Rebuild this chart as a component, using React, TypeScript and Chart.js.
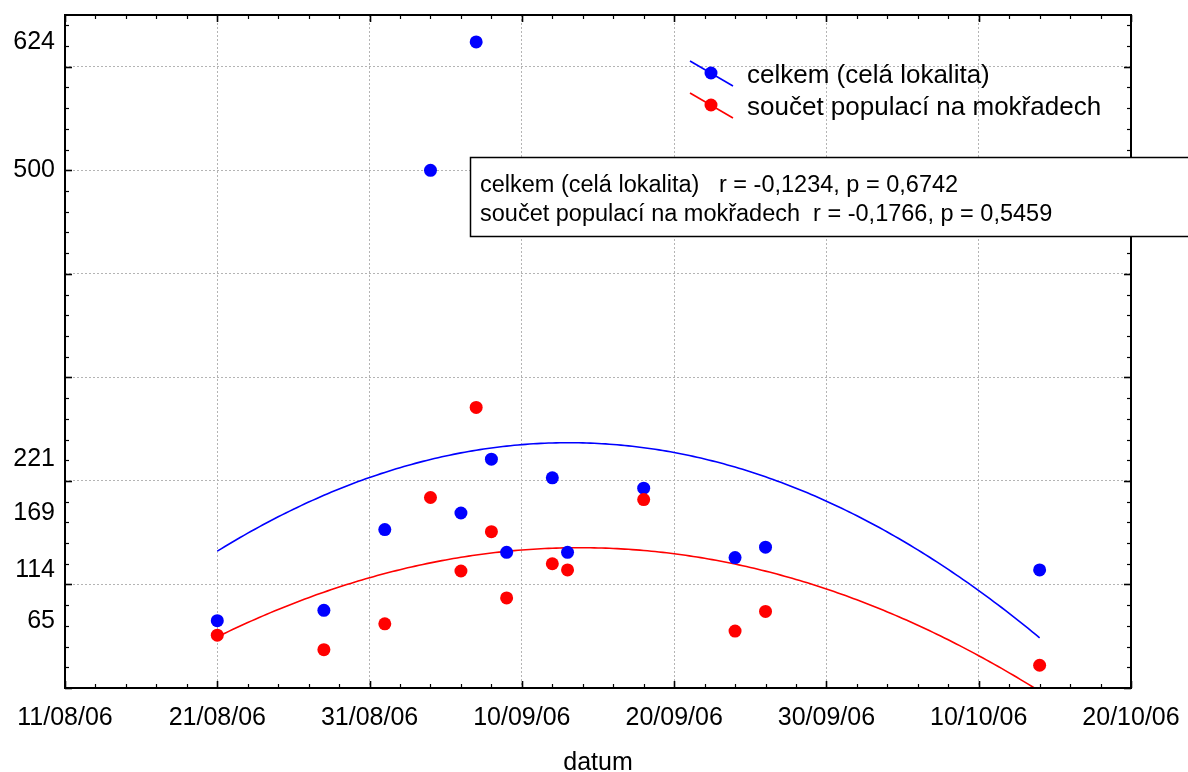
import React, { useEffect, useRef } from 'react';
import { Chart, registerables } from 'chart.js';

Chart.register(...registerables);

// ---------------- data ----------------
const ORIGIN_DATE = '2006-08-11';
const X_SPAN_DAYS = 70;
const sampleDates = [
  '2006-08-21', '2006-08-28', '2006-09-01', '2006-09-04', '2006-09-06', '2006-09-07', '2006-09-08',
  '2006-09-09', '2006-09-12', '2006-09-13', '2006-09-18', '2006-09-24', '2006-09-26', '2006-10-14',
];
const celkem = [65, 75, 153, 500, 169, 624, 221, 131, 203, 131, 193, 126, 136, 114];
const soucet = [51, 37, 62, 184, 113, 271, 151, 87, 120, 114, 182, 55, 74, 22];
const seriesNames = ['celkem (celá lokalita)', 'součet populací na mokřadech'];
const rValues = ['-0,1234', '-0,1766'];
const pValues = ['0,6742', '0,5459'];
const yTickLabels = [65, 114, 169, 221, 500, 624];
const yGridValues = [100, 200, 300, 400, 500, 600];
const xTickDays = [0, 10, 20, 30, 40, 50, 60, 70];
const xTitle = 'datum';
const Y_MAX = 650;

const COLORS = ['#0000ff', '#ff0000'];
const FONT = '"Liberation Sans", Arial, Helvetica, sans-serif';
const GRID = '#b4b4b4';

const DAY = 86400000;
const toUTC = (s: string) => {
  const [y, m, d] = s.split('-').map(Number);
  return Date.UTC(y, m - 1, d);
};
const originMs = toUTC(ORIGIN_DATE);
const dayOf = (s: string) => Math.round((toUTC(s) - originMs) / DAY);
const fmtDay = (day: number) => {
  const d = new Date(originMs + day * DAY);
  const p = (n: number) => String(n).padStart(2, '0');
  return `${p(d.getUTCDate())}/${p(d.getUTCMonth() + 1)}/${p(d.getUTCFullYear() % 100)}`;
};

// least-squares quadratic regression of the data
function quadFit(xs: number[], ys: number[]) {
  const n = xs.length;
  const mx = xs.reduce((a, b) => a + b, 0) / n;
  const S = [0, 0, 0, 0, 0];
  const T = [0, 0, 0];
  for (let i = 0; i < n; i++) {
    const u = xs[i] - mx;
    let pw = 1;
    for (let k = 0; k <= 4; k++) {
      S[k] += pw;
      if (k <= 2) T[k] += ys[i] * pw;
      pw *= u;
    }
  }
  const M = [
    [S[0], S[1], S[2]],
    [S[1], S[2], S[3]],
    [S[2], S[3], S[4]],
  ];
  const det3 = (m: number[][]) =>
    m[0][0] * (m[1][1] * m[2][2] - m[1][2] * m[2][1]) -
    m[0][1] * (m[1][0] * m[2][2] - m[1][2] * m[2][0]) +
    m[0][2] * (m[1][0] * m[2][1] - m[1][1] * m[2][0]);
  const D = det3(M);
  const coef = [0, 1, 2].map((c) => {
    const Mc = M.map((row, r) => row.map((v, j) => (j === c ? T[r] : v)));
    return det3(Mc) / D;
  });
  return (x: number) => {
    const u = x - mx;
    return coef[0] + coef[1] * u + coef[2] * u * u;
  };
}

const days = sampleDates.map(dayOf);
const seriesValues = [celkem, soucet];

function fitCurve(values: number[]) {
  const f = quadFit(days, values);
  const lo = Math.min(...days);
  const hi = Math.max(...days);
  const pts: { x: number; y: number }[] = [];
  for (let d = lo; d <= hi + 1e-9; d += 0.25) pts.push({ x: d, y: f(d) });
  return pts;
}

const decorPlugin = {
  id: 'decor',
  afterDraw(chart: any) {
    const { ctx, chartArea } = chart;
    const { left, right, top, bottom } = chartArea;
    const xs = chart.scales.x;
    const ys = chart.scales.y;
    ctx.save();
    ctx.strokeStyle = '#000';
    const seg = (x1: number, y1: number, x2: number, y2: number) => {
      ctx.beginPath();
      ctx.moveTo(x1, y1);
      ctx.lineTo(x2, y2);
      ctx.stroke();
    };
    // inside tick marks on all four sides
    for (let d = 0; d <= X_SPAN_DAYS; d += 2) {
      const px = Math.round(xs.getPixelForValue(d)) + 0.5;
      const major = d % 10 === 0;
      const len = major ? 7 : 4;
      ctx.lineWidth = major ? 1.6 : 1.2;
      seg(px, bottom, px, bottom - len);
      seg(px, top, px, top + len);
    }
    for (let v = 0; v <= Y_MAX; v += 20) {
      const py = Math.round(ys.getPixelForValue(v)) + 0.5;
      const major = v % 100 === 0;
      const len = major ? 7 : 4;
      ctx.lineWidth = major ? 1.6 : 1.2;
      seg(left, py, left + len, py);
      seg(right, py, right - len, py);
    }
    // frame
    ctx.lineWidth = 2;
    ctx.strokeRect(left, top, right - left, bottom - top);

    // legend (inside plot, upper right)
    ctx.font = `26px ${FONT}`;
    ctx.textBaseline = 'alphabetic';
    ctx.textAlign = 'left';
    const legendRows = [73, 105];
    seriesNames.forEach((name, i) => {
      const cy = legendRows[i];
      ctx.strokeStyle = COLORS[i];
      ctx.lineWidth = 1.6;
      seg(690, cy - 12, 733, cy + 13);
      ctx.fillStyle = COLORS[i];
      ctx.beginPath();
      ctx.arc(711, cy, 6.5, 0, Math.PI * 2);
      ctx.fill();
      ctx.fillStyle = '#000';
      ctx.fillText(name, 747, cy + 10);
    });

    // statistics box
    ctx.fillStyle = '#fff';
    ctx.fillRect(470.5, 157.5, 760, 79);
    ctx.strokeStyle = '#000';
    ctx.lineWidth = 1.5;
    ctx.strokeRect(470.5, 157.5, 760, 79);
    ctx.fillStyle = '#000';
    ctx.font = `23.5px ${FONT}`;
    const gaps = ['   ', '  '];
    seriesNames.forEach((name, i) => {
      ctx.fillText(`${name}${gaps[i]}r = ${rValues[i]}, p = ${pValues[i]}`, 480, 192 + i * 29);
    });
    ctx.restore();
  },
};

export default function App() {
  const ref = useRef<HTMLCanvasElement | null>(null);

  useEffect(() => {
    document.body.style.margin = '0';
    const canvas = ref.current;
    if (!canvas) return;

    const scatterSets = seriesValues.map((vals, i) => ({
      label: seriesNames[i],
      data: vals.map((v, k) => ({ x: days[k], y: v })),
      backgroundColor: COLORS[i],
      borderColor: COLORS[i],
      pointRadius: 6.5,
      pointBorderWidth: 0,
      showLine: false,
      order: i === 1 ? 0 : 1,
    }));
    const fitSets = seriesValues.map((vals, i) => ({
      label: seriesNames[i] + ' (fit)',
      data: fitCurve(vals),
      borderColor: COLORS[i],
      backgroundColor: COLORS[i],
      borderWidth: 1.6,
      pointRadius: 0,
      showLine: true,
      tension: 0,
      clip: 0,
      order: 2 + i,
    }));

    const chart = new Chart(canvas, {
      type: 'scatter',
      data: { datasets: [...scatterSets, ...fitSets] as any },
      options: {
        animation: false,
        responsive: false,
        devicePixelRatio: 1,
        layout: { padding: { top: 15, right: 57, left: 0, bottom: 0 } },
        plugins: { legend: { display: false }, tooltip: { enabled: false } },
        scales: {
          x: {
            type: 'linear',
            min: 0,
            max: X_SPAN_DAYS,
            afterBuildTicks: (s: any) => {
              s.ticks = xTickDays.map((v) => ({ value: v }));
            },
            afterFit: (s: any) => {
              s.height = 84;
              s.paddingLeft = 0;
              s.paddingRight = 0;
              s.paddingTop = 0;
              s.paddingBottom = 0;
            },
            ticks: {
              autoSkip: false,
              maxRotation: 0,
              padding: 15,
              color: '#000',
              font: { family: FONT, size: 25 },
              callback: (v: any) => fmtDay(Number(v)),
            },
            grid: {
              drawTicks: false,
              lineWidth: 1,
              color: (c: any) =>
                c.tick && (c.tick.value === 0 || c.tick.value === X_SPAN_DAYS) ? 'rgba(0,0,0,0)' : GRID,
            },
            border: { display: false, dash: [2, 2] },
            title: {
              display: true,
              text: xTitle,
              color: '#000',
              font: { family: FONT, size: 25 },
              padding: { top: 0, bottom: -6 },
            },
          },
          y: {
            type: 'linear',
            min: 0,
            max: Y_MAX,
            afterBuildTicks: (s: any) => {
              const vals = Array.from(new Set([...yTickLabels, ...yGridValues])).sort((a, b) => a - b);
              s.ticks = vals.map((v) => ({ value: v }));
            },
            afterFit: (s: any) => {
              s.width = 65;
              s.paddingLeft = 0;
              s.paddingRight = 0;
              s.paddingTop = 0;
              s.paddingBottom = 0;
            },
            ticks: {
              autoSkip: false,
              padding: 10,
              color: '#000',
              font: { family: FONT, size: 25 },
              callback: (v: any) => (yTickLabels.includes(Number(v)) ? String(v) : ''),
            },
            grid: {
              drawTicks: false,
              lineWidth: 1,
              color: (c: any) => (c.tick && yGridValues.includes(c.tick.value) ? GRID : 'rgba(0,0,0,0)'),
            },
            border: { display: false, dash: [2, 2] },
          },
        },
      },
      plugins: [decorPlugin],
    } as any);

    return () => chart.destroy();
  }, []);

  return (
    <div style={{ width: 1188, height: 772, background: '#fff' }}>
      <canvas ref={ref} width={1188} height={772} style={{ display: 'block' }} />
    </div>
  );
}
